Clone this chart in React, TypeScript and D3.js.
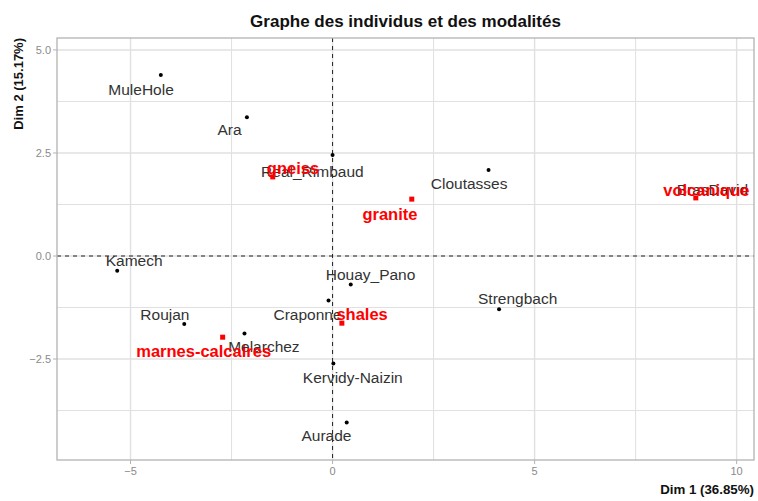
import React from "react";
import * as d3 from "d3";

const individuals = ["MuleHole", "Ara", "Real_Rimbaud", "Cloutasses", "BrasDavid", "Kamech", "Houay_Pano", "Craponne", "Roujan", "Melarchez", "Strengbach", "Kervidy-Naizin", "Aurade"];
const indDim1 = [-4.25, -2.12, 0.0, 3.86, 8.99, -5.33, 0.45, -0.1, -3.67, -2.18, 4.12, 0.02, 0.35];
const indDim2 = [4.39, 3.37, 2.45, 2.09, 1.41, -0.36, -0.69, -1.08, -1.65, -1.88, -1.29, -2.61, -4.04];
// repelled label anchors (data units)
const indLabDim1 = [-4.74, -2.55, -0.5, 3.38, 9.4, -4.91, 0.94, -0.62, -4.15, -1.7, 4.58, 0.5, -0.15];
const indLabDim2 = [4.05, 3.06, 2.06, 1.75, 1.6, -0.12, -0.46, -1.43, -1.43, -2.2, -1.04, -2.95, -4.36];

const modalities = ["gneiss", "granite", "volcanique", "shales", "marnes-calcaires"];
const modDim1 = [-1.48, 1.96, 8.99, 0.23, -2.72];
const modDim2 = [1.92, 1.38, 1.41, -1.63, -1.97];
const modLabDim1 = [-0.98, 1.42, 9.25, 0.73, -3.19];
const modLabDim2 = [2.14, 1.02, 1.6, -1.41, -2.31];

const xTicks = [-5, 0, 5, 10];
const yTicks = [-2.5, 0, 2.5, 5];
const xMinor = [-2.5, 2.5, 7.5];
const yMinor = [-3.75, -1.25, 1.25, 3.75];

const W = 758;
const H = 501;
const left = 57, right = 754, top = 38, bottom = 460;

export default function App() {
  const x = d3.scaleLinear().domain([-6.82, 10.43]).range([left, right]);
  const y = d3.scaleLinear().domain([-4.95, 5.29]).range([bottom, top]);
  const gridColor = "#e0e0e0";
  const tickText = "#8a8a8a";
  return (
    <svg width={W} height={H} style={{ position: "absolute", left: 0, top: 0, background: "#fff" }} fontFamily="'Liberation Sans', Arial, sans-serif">
      <rect x={0} y={0} width={W} height={H} fill="#fff" />
      {/* grid */}
      {xMinor.map((v) => (
        <line key={"xm" + v} x1={x(v)} x2={x(v)} y1={top} y2={bottom} stroke={gridColor} strokeWidth={1} />
      ))}
      {yMinor.map((v) => (
        <line key={"ym" + v} y1={y(v)} y2={y(v)} x1={left} x2={right} stroke={gridColor} strokeWidth={1} />
      ))}
      {xTicks.map((v) => (
        <line key={"xg" + v} x1={x(v)} x2={x(v)} y1={top} y2={bottom} stroke={gridColor} strokeWidth={1.4} />
      ))}
      {yTicks.map((v) => (
        <line key={"yg" + v} y1={y(v)} y2={y(v)} x1={left} x2={right} stroke={gridColor} strokeWidth={1.4} />
      ))}
      {/* dashed axes */}
      <line x1={x(0)} x2={x(0)} y1={top} y2={bottom} stroke="#222" strokeWidth={1} strokeDasharray="4,4" />
      <line x1={left} x2={right} y1={y(0)} y2={y(0)} stroke="#222" strokeWidth={1} strokeDasharray="4,4" />
      {/* individuals */}
      {individuals.map((name, i) => (
        <circle key={"p" + name} cx={x(indDim1[i])} cy={y(indDim2[i])} r={2} fill="#000" />
      ))}
      {modalities.map((name, i) => (
        <rect key={"m" + name} x={x(modDim1[i]) - 2.5} y={y(modDim2[i]) - 2.5} width={5} height={5} fill="#ff0000" />
      ))}
      {individuals.map((name, i) => (
        <text key={"t" + name} x={x(indLabDim1[i])} y={y(indLabDim2[i])} dy="0.35em" textAnchor="middle" fontSize={15.5} fill="#333">
          {name}
        </text>
      ))}
      {modalities.map((name, i) => (
        <text key={"mt" + name} x={x(modLabDim1[i])} y={y(modLabDim2[i])} dy="0.35em" textAnchor="middle" fontSize={16.5} fontWeight="bold" fill="#ff0000">
          {name}
        </text>
      ))}
      {/* panel border */}
      <rect x={left} y={top} width={right - left} height={bottom - top} fill="none" stroke="#b3b3b3" strokeWidth={1.3} />
      {/* ticks */}
      {xTicks.map((v) => (
        <g key={"xt" + v}>
          <line x1={x(v)} x2={x(v)} y1={bottom} y2={bottom + 4} stroke="#b3b3b3" />
          <text x={x(v)} y={bottom + 15} textAnchor="middle" fontSize={11} fill={tickText}>
            {d3.format("")(v)}
          </text>
        </g>
      ))}
      {yTicks.map((v) => (
        <g key={"yt" + v}>
          <line x1={left - 4} x2={left} y1={y(v)} y2={y(v)} stroke="#b3b3b3" />
          <text x={left - 6} y={y(v)} dy="0.35em" textAnchor="end" fontSize={11} fill={tickText}>
            {d3.format(".1f")(v)}
          </text>
        </g>
      ))}
      {/* titles */}
      <text x={(left + right) / 2} y={27} textAnchor="middle" fontSize={17} fontWeight="bold" fill="#111">
        Graphe des individus et des modalités
      </text>
      <text x={right} y={494} textAnchor="end" fontSize={13.3} fontWeight="bold" fill="#111">
        Dim 1 (36.85%)
      </text>
      <text transform={`translate(23, ${top}) rotate(-90)`} textAnchor="end" fontSize={13} fontWeight="bold" fill="#111">
        Dim 2 (15.17%)
      </text>
    </svg>
  );
}
